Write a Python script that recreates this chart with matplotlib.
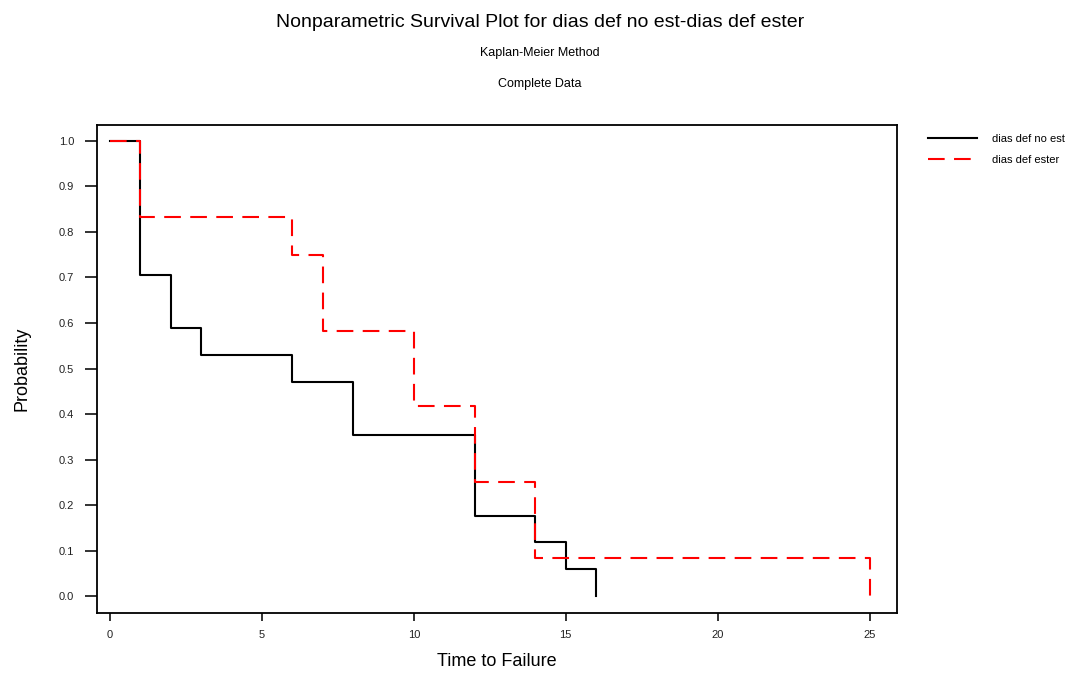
import matplotlib
matplotlib.use("Agg")
from matplotlib import pyplot as plt

plt.rcParams['font.family'] = ['Liberation Sans Narrow', 'Liberation Sans', 'DejaVu Sans']

# Kaplan-Meier estimates
no_est_time = [0, 1, 2, 3, 6, 8, 12, 14, 15, 16]
no_est_surv = [1.0, 0.706, 0.588, 0.529, 0.471, 0.353, 0.176, 0.118, 0.059, 0.0]

ester_time = [0, 1, 6, 7, 10, 12, 14, 25]
ester_surv = [1.0, 0.833, 0.750, 0.583, 0.417, 0.250, 0.083, 0.0]

x_ticks = [0, 5, 10, 15, 20, 25]
y_ticks = [0.0, 0.1, 0.2, 0.3, 0.4, 0.5, 0.6, 0.7, 0.8, 0.9, 1.0]

fig = plt.figure(figsize=(10.69, 6.73), dpi=100)
ax = fig.add_axes([0.0907, 0.0892, 0.7483, 0.7251])

ax.step(no_est_time, no_est_surv, where='post', color='black', lw=1.5,
        label='dias def no est')
ax.step(ester_time, ester_surv, where='post', color='red', lw=1.5,
        dashes=(8, 4.5), label='dias def ester')

ax.set_xlim(-0.43, 25.9)
ax.set_ylim(-0.037, 1.035)
ax.set_xticks(x_ticks)
ax.set_yticks(y_ticks)
ax.set_xticklabels([str(t) for t in x_ticks])
ax.set_yticklabels([f"{t:.1f}" for t in y_ticks])
ax.tick_params(axis='y', direction='out', length=8.5, width=1.3, pad=8,
               labelsize=8, colors='#222222')
ax.tick_params(axis='x', direction='out', length=5.5, width=1.3, pad=7,
               labelsize=8, colors='#222222')
for side in ax.spines.values():
    side.set_linewidth(1.3)

ax.set_xlabel("Time to Failure", fontsize=13, labelpad=9)
ax.set_ylabel("Probability", fontsize=13, labelpad=20)

fig.text(0.505, 0.967, "Nonparametric Survival Plot for dias def no est-dias def ester",
         ha='center', va='center', fontsize=14)
fig.text(0.505, 0.921, "Kaplan-Meier Method", ha='center', va='center', fontsize=9)
fig.text(0.505, 0.875, "Complete Data", ha='center', va='center', fontsize=9)

fig.legend(loc='upper left', bbox_to_anchor=(0.859, 0.816), frameon=False,
           fontsize=8, handlelength=4.4, handletextpad=1.3, labelspacing=1.0)

fig.savefig("out.png", dpi=100)
